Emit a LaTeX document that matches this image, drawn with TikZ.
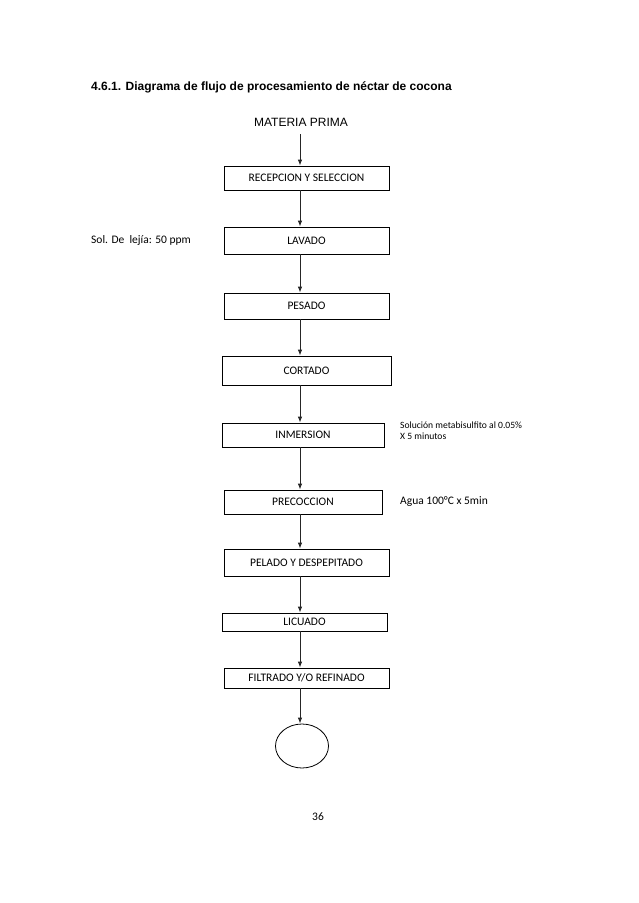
\documentclass[tikz,border=0pt]{standalone}
\usepackage{fontspec}
\setmainfont{Carlito}
\newfontfamily\arialfont{Liberation Sans}
\usetikzlibrary{arrows.meta,shapes.geometric}
\begin{document}
\begin{tikzpicture}[x=1pt,y=-1pt,
  box/.style={draw, line width=0.8pt, inner sep=0pt, font=\fontsize{11.5}{13}\selectfont},
  arr/.style={draw=black!85, line width=0.9pt, -{Latex[length=6pt,width=4.5pt]}},
  note/.style={inner sep=0pt, font=\fontsize{11.5}{13}\selectfont},
  small/.style={inner sep=0pt, align=left, font=\fontsize{9.6}{11}\selectfont}]
\useasboundingbox[fill=white] (0,0) rectangle (638,903);
\coordinate (ax) at (300,0);
\node[inner sep=0pt, anchor=west, font=\arialfont\bfseries\fontsize{12}{14}\selectfont] (title) at (91,87) {4.6.1. Diagrama de flujo de procesamiento de néctar de cocona};
\node[inner sep=0pt, font=\arialfont\fontsize{12}{14}\selectfont] (mp) at (301,122) {MATERIA PRIMA};
\node[box, minimum width=165pt, minimum height=24pt] (rec) at (306.5,178) {RECEPCION Y SELECCION};
\node[box, minimum width=165pt, minimum height=27pt] (lav) at (306.5,240.5) {LAVADO};
\node[box, minimum width=165pt, minimum height=26pt] (pes) at (306.5,306) {PESADO};
\node[box, minimum width=169pt, minimum height=29pt] (cor) at (306.5,370.5) {CORTADO};
\node[box, minimum width=162pt, minimum height=24pt] (inm) at (303,435) {INMERSION};
\node[box, minimum width=158pt, minimum height=24pt] (pre) at (303,502) {PRECOCCION};
\node[box, minimum width=165pt, minimum height=27pt] (pel) at (306.5,562.5) {PELADO Y DESPEPITADO};
\node[box, minimum width=165pt, minimum height=18pt] (lic) at (304.5,622) {\raisebox{-3.5pt}{LICUADO}};
\node[box, minimum width=165pt, minimum height=20pt] (fil) at (306.5,678) {FILTRADO Y/O REFINADO};
\node[draw, line width=0.8pt, ellipse, inner sep=0pt, minimum width=53pt, minimum height=44pt] (end) at (302,746) {};
\node[note, anchor=west] (sol) at (91,240) {Sol. De \ lejía: 50 ppm};
\node[small, anchor=north west] (meta) at (400,421.5) {Solución metabisulfito al 0.05\%\\X 5 minutos};
\node[note, anchor=west] (agua) at (400,502) {Agua 100°C x 5min};
\node[note] (page) at (318,817) {36};
\draw[arr, shorten <=8pt] (mp.south -| ax) -- (rec.north -| ax);
\draw[arr] (rec.south -| ax) -- (lav.north -| ax);
\draw[arr] (lav.south -| ax) -- (pes.north -| ax);
\draw[arr] (pes.south -| ax) -- (cor.north -| ax);
\draw[arr] (cor.south -| ax) -- (inm.north -| ax);
\draw[arr] (inm.south -| ax) -- (pre.north -| ax);
\draw[arr] (pre.south -| ax) -- (pel.north -| ax);
\draw[arr] (pel.south -| ax) -- (lic.north -| ax);
\draw[arr] (lic.south -| ax) -- (fil.north -| ax);
\draw[arr] (fil.south -| ax) -- (end.north -| ax);
\end{tikzpicture}
\end{document}
